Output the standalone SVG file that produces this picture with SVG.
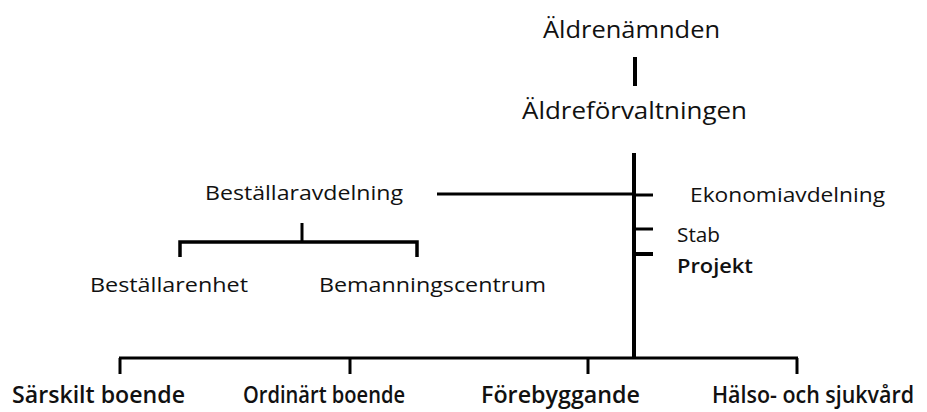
<svg xmlns="http://www.w3.org/2000/svg" width="927" height="412" viewBox="0 0 927 412">
<style>
text{font-family:"Open Sans","Liberation Sans",sans-serif;fill:#111}
.t{font-size:24px}
.m{font-size:20px}
.b{font-size:24px;font-weight:600}
.c{stroke:#000;fill:none;stroke-linecap:butt}
</style>
<rect width="927" height="412" fill="#fff"/>
<g id="connectors">
<line class="c" x1="635" y1="57" x2="635" y2="86" stroke-width="4"/>
<line class="c" x1="634" y1="153" x2="634" y2="357" stroke-width="4"/>
<line class="c" x1="437" y1="194" x2="634" y2="194" stroke-width="3"/>
<line class="c" x1="634" y1="195" x2="653" y2="195" stroke-width="3"/>
<line class="c" x1="634" y1="229" x2="653" y2="229" stroke-width="3"/>
<line class="c" x1="634" y1="254" x2="653" y2="254" stroke-width="4"/>
<line class="c" x1="302" y1="223" x2="302" y2="242" stroke-width="3"/>
<path class="c" d="M180 257V242H417V257" stroke-width="3.5"/>
<line class="c" x1="119" y1="358" x2="798" y2="358" stroke-width="3"/>
<line class="c" x1="120" y1="358" x2="120" y2="374" stroke-width="3"/>
<line class="c" x1="350" y1="358" x2="350" y2="374" stroke-width="3"/>
<line class="c" x1="588" y1="358" x2="588" y2="374" stroke-width="3"/>
<line class="c" x1="797" y1="358" x2="797" y2="374" stroke-width="3"/>
</g>
<g id="aldrenamnden"><text class="t" x="543" y="38" textLength="177" lengthAdjust="spacingAndGlyphs">Äldrenämnden</text></g>
<g id="aldreforvaltningen"><text class="t" x="522" y="119" textLength="225" lengthAdjust="spacingAndGlyphs">Äldreförvaltningen</text></g>
<g id="bestallaravdelning"><text class="m" x="205" y="200" textLength="198" lengthAdjust="spacingAndGlyphs">Beställaravdelning</text></g>
<g id="ekonomiavdelning"><text class="m" x="690" y="202" textLength="195" lengthAdjust="spacingAndGlyphs">Ekonomiavdelning</text></g>
<g id="stab"><text class="m" x="677" y="242" textLength="43" lengthAdjust="spacingAndGlyphs">Stab</text></g>
<g id="projekt"><text class="m" x="677" y="273" textLength="76" lengthAdjust="spacingAndGlyphs" style="font-weight:600">Projekt</text></g>
<g id="bestallarenhet"><text class="m" x="90" y="292" textLength="158" lengthAdjust="spacingAndGlyphs">Beställarenhet</text></g>
<g id="bemanningscentrum"><text class="m" x="319" y="292" textLength="227" lengthAdjust="spacingAndGlyphs">Bemanningscentrum</text></g>
<g id="sarskilt"><text class="b" x="12" y="403" textLength="173" lengthAdjust="spacingAndGlyphs">Särskilt boende</text></g>
<g id="ordinart"><text class="b" x="243" y="403" textLength="162" lengthAdjust="spacingAndGlyphs">Ordinärt boende</text></g>
<g id="forebyggande"><text class="b" x="481" y="403" textLength="159" lengthAdjust="spacingAndGlyphs">Förebyggande</text></g>
<g id="halso"><text class="b" x="712" y="403" textLength="202" lengthAdjust="spacingAndGlyphs">Hälso- och sjukvård</text></g>
</svg>
